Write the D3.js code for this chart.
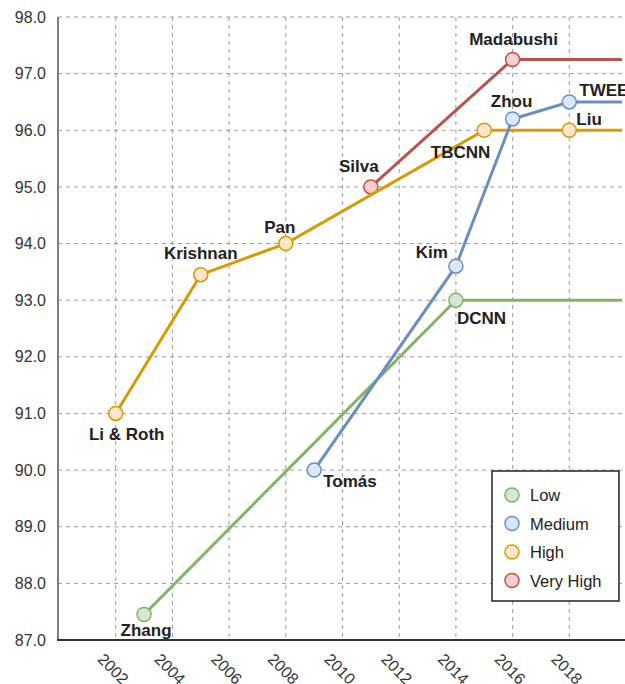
<!DOCTYPE html>
<html>
<head>
<meta charset="utf-8">
<script src="https://cdn.jsdelivr.net/npm/d3@7"></script>
<style>
  html, body { margin: 0; padding: 0; background: #fff; }
  svg { display: block; font-family: "Liberation Sans", Arial, sans-serif; }
</style>
</head>
<body>
<svg id="chart" width="625" height="684"></svg>
<script>
// ---- data ----
const seriesNames = ["Low", "Medium", "High", "Very High"];

const lowYears = [2003, 2014];
const lowValues = [87.45, 93.0];
const lowLabels = ["Zhang", "DCNN"];

const mediumYears = [2009, 2014, 2016, 2018];
const mediumValues = [90.0, 93.6, 96.2, 96.5];
const mediumLabels = ["Tomás", "Kim", "Zhou", "TWEE"];

const highYears = [2002, 2005, 2008, 2015, 2018];
const highValues = [91.0, 93.45, 94.0, 96.0, 96.0];
const highLabels = ["Li & Roth", "Krishnan", "Pan", "TBCNN", "Liu"];

const veryHighYears = [2011, 2016];
const veryHighValues = [95.0, 97.25];
const veryHighLabels = ["Silva", "Madabushi"];

const endYear = 2020;
const xTickValues = [2002, 2004, 2006, 2008, 2010, 2012, 2014, 2016, 2018];
const yTickValues = [87, 88, 89, 90, 91, 92, 93, 94, 95, 96, 97, 98];

// ---- styles & placement ----
const lineColors = { "Low": "#82b366", "Medium": "#6c8ebf", "High": "#d79b00", "Very High": "#b85450" };
const fillColors = { "Low": "#d5e8d4", "Medium": "#dae8fc", "High": "#ffe6cc", "Very High": "#f8cecc" };
const labelPlacement = {
  "Zhang": [2, 21, "middle"], "DCNN": [1, 24, "start"],
  "Tomás": [9, 17, "start"], "Kim": [-8, -8, "end"], "Zhou": [-1, -12, "middle"], "TWEE": [10, -6, "start"],
  "Li & Roth": [11, 27, "middle"], "Krishnan": [0, -16, "middle"], "Pan": [-6, -11, "middle"],
  "TBCNN": [6, 28, "end"], "Liu": [7, -5, "start"],
  "Silva": [-12, -15, "middle"], "Madabushi": [1, -14, "middle"]
};

const series = {
  "Low": { years: lowYears, values: lowValues, labels: lowLabels },
  "Medium": { years: mediumYears, values: mediumValues, labels: mediumLabels },
  "High": { years: highYears, values: highValues, labels: highLabels },
  "Very High": { years: veryHighYears, values: veryHighValues, labels: veryHighLabels }
};
const drawOrder = ["Very High", "Low", "High", "Medium"];

const svg = d3.select("#chart");
const mLeft = 58, mRight = 622, mTop = 17, mBottom = 640;

const x = d3.scaleLinear().domain([2000, endYear]).range([59, 626]);
const y = d3.scaleLinear().domain([87, 98]).range([mBottom, mTop]);

svg.append("defs").append("clipPath").attr("id", "plotclip")
  .append("rect").attr("x", mLeft).attr("y", 0).attr("width", mRight - mLeft).attr("height", mBottom + 10);

// grid
const grid = svg.append("g");
grid.selectAll("line.h").data(yTickValues.filter(v => v !== 87)).enter().append("line")
  .attr("x1", mLeft).attr("x2", mRight)
  .attr("y1", d => y(d)).attr("y2", d => y(d))
  .attr("stroke", "#9a9a9a").attr("stroke-width", 1).attr("stroke-dasharray", "4,4");
grid.selectAll("line.v").data(xTickValues).enter().append("line")
  .attr("x1", d => x(d)).attr("x2", d => x(d))
  .attr("y1", mTop).attr("y2", mBottom)
  .attr("stroke", "#9a9a9a").attr("stroke-width", 1).attr("stroke-dasharray", "4,4");

// axes
const yAxis = d3.axisLeft(y).tickValues(yTickValues).tickFormat(d3.format(".1f")).tickSize(0).tickPadding(12);
const gy = svg.append("g").attr("transform", `translate(${mLeft},0)`).call(yAxis);
gy.select(".domain").remove();
gy.selectAll("text").attr("font-size", 16).attr("fill", "#333").attr("font-family", "Liberation Sans, Arial, sans-serif");

const xAxis = d3.axisBottom(x).tickValues(xTickValues).tickFormat(d3.format("d")).tickSize(0);
const gx = svg.append("g").attr("transform", `translate(0,${mBottom})`).call(xAxis);
gx.select(".domain").remove();
gx.selectAll("text")
  .attr("font-size", 16).attr("fill", "#333").attr("font-family", "Liberation Sans, Arial, sans-serif")
  .attr("text-anchor", "middle").attr("dy", null).attr("y", null)
  .attr("dominant-baseline", "central")
  .attr("transform", "translate(-3,29) rotate(45)");

svg.append("line").attr("x1", mLeft).attr("x2", mLeft).attr("y1", mTop).attr("y2", mBottom)
  .attr("stroke", "#808080").attr("stroke-width", 2);
svg.append("line").attr("x1", mLeft - 1).attr("x2", 625).attr("y1", mBottom).attr("y2", mBottom)
  .attr("stroke", "#333").attr("stroke-width", 2);

// series
const line = d3.line().x(d => x(d[0])).y(d => y(d[1]));
drawOrder.forEach(name => {
  const s = series[name];
  const pts = s.years.map((yr, i) => [yr, s.values[i]]);
  const linePts = pts.concat([[endYear, s.values[s.values.length - 1]]]);
  const g = svg.append("g");
  g.append("path").datum(linePts).attr("d", line).attr("clip-path", "url(#plotclip)")
    .attr("fill", "none").attr("stroke", lineColors[name]).attr("stroke-width", 3);
  g.selectAll("circle").data(pts).enter().append("circle")
    .attr("cx", d => x(d[0])).attr("cy", d => y(d[1])).attr("r", 7)
    .attr("fill", fillColors[name]).attr("stroke", lineColors[name]).attr("stroke-width", 1.5);
});

// labels
drawOrder.forEach(name => {
  const s = series[name];
  s.labels.forEach((lab, i) => {
    const p = labelPlacement[lab];
    svg.append("text")
      .attr("x", x(s.years[i]) + p[0]).attr("y", y(s.values[i]) + p[1])
      .attr("text-anchor", p[2])
      .attr("font-size", 17).attr("font-weight", "bold").attr("fill", "#222")
      .text(lab);
  });
});

// legend
const lg = svg.append("g");
lg.append("rect").attr("x", 492).attr("y", 471).attr("width", 127).attr("height", 130)
  .attr("fill", "#fff").attr("stroke", "#222").attr("stroke-width", 1.5);
seriesNames.forEach((name, i) => {
  const cy = 495 + i * 28.5;
  lg.append("circle").attr("cx", 512).attr("cy", cy).attr("r", 7)
    .attr("fill", fillColors[name]).attr("stroke", lineColors[name]).attr("stroke-width", 1.5);
  lg.append("text").attr("x", 530).attr("y", cy).attr("dominant-baseline", "central")
    .attr("font-size", 16.5).attr("fill", "#222").text(name);
});
</script>
</body>
</html>
